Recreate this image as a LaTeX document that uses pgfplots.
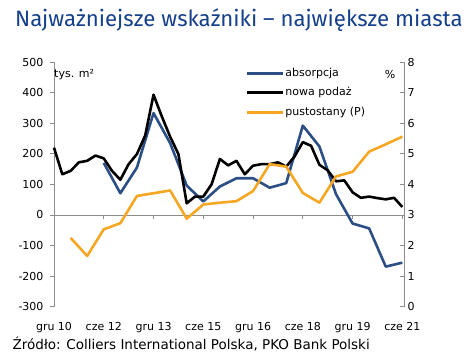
\documentclass[border=0pt]{standalone}
\usepackage{pgfplots}
\usepackage{pgfplotstable}
\pgfplotsset{compat=1.18}
\usepackage{fontspec}
\setmainfont{DejaVu Sans}
\newfontfamily\titlefont{Fira Sans}
\definecolor{absblue}{HTML}{2B4F85}
\definecolor{vacorange}{HTML}{F5A623}
\definecolor{titleblue}{HTML}{15408A}
\definecolor{axgray}{HTML}{8C8C8C}

\pgfplotstableread{
q v
0 220
1 133
2 144
3 172
4 177
5 194
6 185
7 144
8 115
9 166
10 199
11 260
12 393
13 322
14 256
15 199
16 38
17 60
18 60
19 100
20 183
21 162
22 177
23 133
24 161
25 166
26 166
27 172
28 158
29 191
30 238
31 226
32 164
33 146
34 110
35 113
36 74
37 56
38 60
39 55
40 51
41 56
42 26
}\supply

\pgfplotstableread{
q v
6 170
8 71
10 155
12 333
14 235
16 96
18 44
20 93
22 120
24 120
26 89
28 104
30 292
32 224
34 68
36 -28
38 -44
40 -169
42 -156
}\absorpcja

\pgfplotstableread{
q v
2 2.25
4 1.66
6 2.53
8 2.73
10 3.62
12 3.71
14 3.80
16 2.88
18 3.34
20 3.40
22 3.45
24 3.78
26 4.66
28 4.58
30 3.72
32 3.40
34 4.26
36 4.41
38 5.07
40 5.31
42 5.56
}\vacancy

\begin{document}
\begin{tikzpicture}
\path[use as bounding box] (0pt,0pt) rectangle (475pt,-361pt);
\node[anchor=base west, inner sep=0, text=titleblue, font=\titlefont\fontsize{22.2}{26}\selectfont] at (15pt,-26.8pt) {Najważniejsze wskaźniki – największe miasta};

\begin{axis}[
  at={(54pt,-306.7pt)}, anchor=south west,
  scale only axis, width=350pt, height=244.7pt,
  xmin=0, xmax=42.2, ymin=-300, ymax=500,
  axis x line*=bottom, axis y line*=left,
  axis line style={-, draw=axgray, line width=0.8pt},
  x axis line style={draw=none},
  xtick={0,6,...,42},
  xticklabels={gru 10,cze 12,gru 13,cze 15,gru 16,cze 18,gru 19,cze 21},
  xtick style={draw=none},
  ytick={-300,-200,...,500},
  ytick style={draw=axgray, line width=0.8pt},
  tick align=outside, major tick length=4pt,
  /pgf/number format/assume math mode=true,
  tick label style={font=\fontsize{11}{13}\selectfont, text=black},
  yticklabel style={xshift=-3pt},
  xticklabel style={yshift=-8.5pt},
  clip=false,
]
\addplot[axgray, line width=0.8pt, forget plot] coordinates {(0,0) (42.2,0)};
\addplot[axgray, line width=0.8pt, ycomb, forget plot] coordinates {(6,-13) (12,-13) (18,-13) (24,-13) (30,-13) (36,-13) (42,-13)};
\addplot[absblue, line width=2.6pt, line join=round] table {\absorpcja};
\addplot[black, line width=2.6pt, line join=round] table {\supply};
\end{axis}

\begin{axis}[
  at={(54pt,-306.7pt)}, anchor=south west,
  scale only axis, width=350pt, height=244.7pt,
  xmin=0, xmax=42.2, ymin=0, ymax=8,
  axis x line=none, axis y line*=right,
  axis line style={-, draw=axgray, line width=0.8pt},
  ytick={0,1,...,8},
  ytick style={draw=axgray, line width=0.8pt},
  tick align=inside, major tick length=4pt,
  /pgf/number format/assume math mode=true,
  tick label style={font=\fontsize{11}{13}\selectfont, text=black},
  clip=false,
  legend style={at={(0.5457,0.98)}, anchor=north west, draw=none, fill=none,
    inner sep=0pt, font=\fontsize{11}{13}\selectfont, row sep=7pt,
    nodes={inner sep=1pt, text height=8pt, text depth=2.5pt},
    cells={anchor=west}},
  legend image code/.code={\draw[#1, line width=3.2pt] (0pt,0pt) -- (36pt,0pt);},
]
\addlegendimage{absblue}
\addlegendentry{absorpcja}
\addlegendimage{black}
\addlegendentry{nowa podaż}
\addplot[vacorange, line width=2.6pt, line join=round] table {\vacancy};
\addlegendentry{pustostany (P)}
\end{axis}

\node[anchor=west, inner sep=0, font=\fontsize{11}{13}\selectfont] at (54pt,-74.5pt) {tys. m²};
\node[inner sep=0, font=\fontsize{11}{13}\selectfont] at (390pt,-74.5pt) {\%};
\node[anchor=base west, inner sep=0, font=\fontsize{13.5}{16}\selectfont] at (12.5pt,-349pt) {Źródło: Colliers International Polska, PKO Bank Polski};
\end{tikzpicture}
\end{document}
